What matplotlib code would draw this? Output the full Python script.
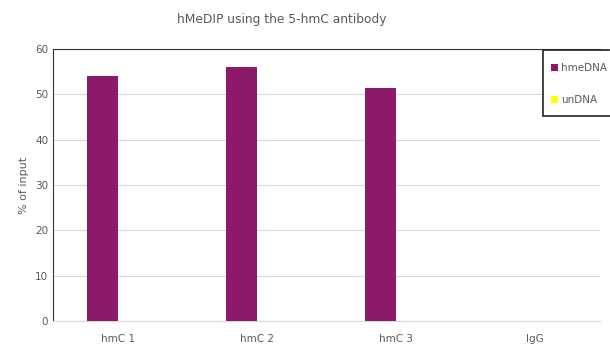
import numpy as np
import matplotlib.pyplot as plt
from matplotlib.patches import Rectangle

samples = ['hmC 1', 'hmC 2', 'hmC 3', 'IgG']
hmedna = [54.0, 56.0, 51.5, 0.0]
undna = [0.0, 0.0, 0.0, 0.0]

fig = plt.figure(figsize=(6.1, 3.47), dpi=100)
ax = fig.add_axes([53 / 610, 1 - 321 / 347, (600 - 53) / 610, 272 / 347])

x = np.arange(len(samples))
w = 0.225
ax.bar(x - w / 2, hmedna, w, color='#8B1A6B', label='hmeDNA', zorder=3)
ax.bar(x + w / 2, undna, w, color='#FFFF00', label='unDNA', zorder=3)

ax.set_xlim(-0.47, 3.47)
ax.set_ylim(0, 60)
ax.set_yticks(range(0, 61, 10))
ax.set_xticks(x)
ax.set_xticklabels(samples)
ax.yaxis.grid(True, color='#d9d9d9', linewidth=0.8, zorder=0)
ax.tick_params(length=0, labelsize=7.5, labelcolor='#595959')
ax.tick_params(axis='x', pad=9)
ax.set_ylabel('% of input', fontsize=8, color='#595959')

ax.spines['right'].set_visible(False)
ax.spines['left'].set_color('#333333')
ax.spines['top'].set_color('#333333')
ax.spines['bottom'].set_color('#d9d9d9')

# legend box drawn by hand so it can run off the right edge like the original
box = Rectangle((543 / 610, 1 - 116 / 347), 80 / 610, 66 / 347,
                transform=fig.transFigure, facecolor='white',
                edgecolor='#222222', linewidth=1.2, zorder=5)
fig.add_artist(box)
leg = fig.legend(loc='upper left', bbox_to_anchor=(544 / 610, 1 - 56 / 347),
                 fontsize=7.5, handlelength=0.6, handleheight=0.6,
                 handletextpad=0.35, labelspacing=2.1, borderpad=0.2,
                 frameon=False)
leg.set_zorder(6)
for t in leg.get_texts():
    t.set_color('#595959')

fig.text(282 / 610, 1 - 20 / 347, 'hMeDIP using the 5-hmC antibody',
         ha='center', va='center', fontsize=8.8, color='#595959')

fig.savefig('out.png', dpi=100)
